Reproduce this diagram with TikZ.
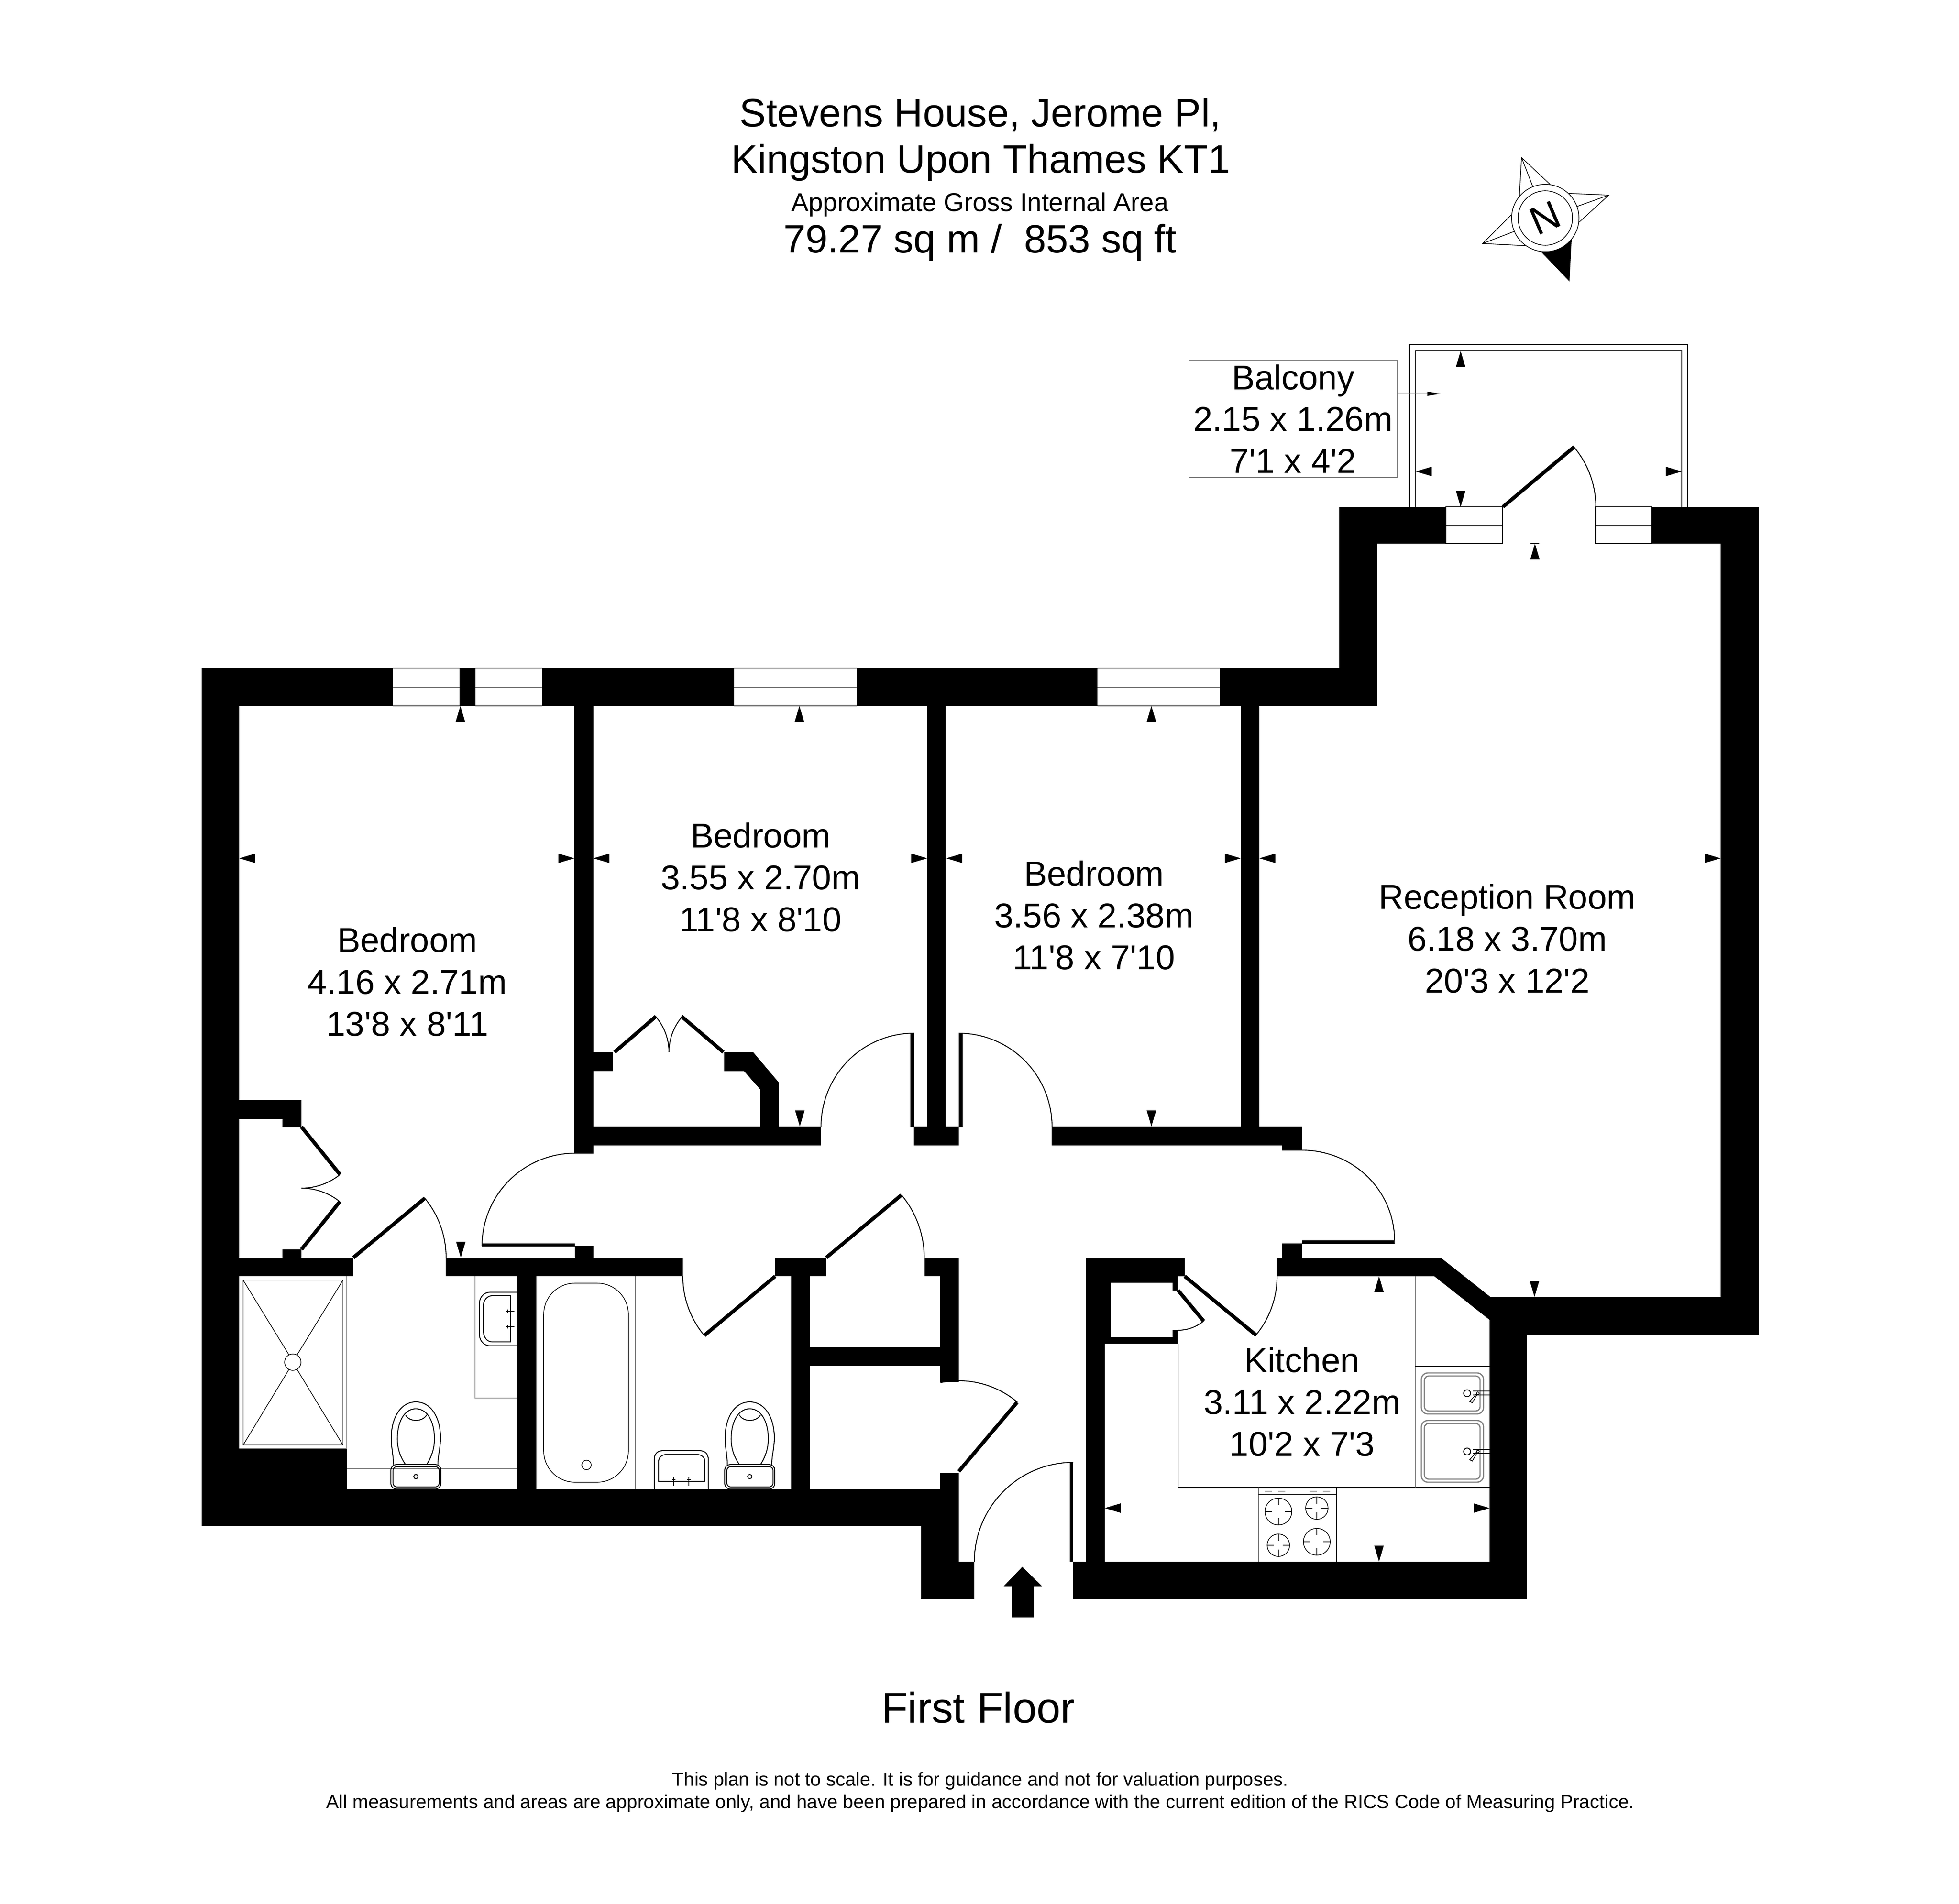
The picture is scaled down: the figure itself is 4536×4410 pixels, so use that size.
\documentclass[tikz,border=0pt]{standalone}
\usepackage{fontspec}
\newfontfamily\planfont{Liberation Sans}
\definecolor{linegray}{gray}{0.5}
\tikzset{
  x=0.01cm,y=-0.01cm,
  wall/.style={fill=black,draw=none},
  leaf/.style={line width=2.4pt,draw=black},
  swing/.style={line width=0.6pt,draw=black},
  fixture/.style={line width=0.6pt,draw=black},
  grayline/.style={line width=0.8pt,draw=linegray},
  thinblack/.style={line width=0.45pt,draw=black},
  tick/.style={fill=black,draw=none},
  roomlabel/.style={inner sep=0pt,align=center,font=\planfont\fontsize{22.7}{27.5}\selectfont},
  titlebig/.style={inner sep=0pt,anchor=base,font=\planfont\fontsize{26.15}{30}\selectfont},
}
\newcommand\wallrect[4]{\fill[wall] (#1,#2) rectangle (#3,#4);}
\newcommand\swingarc[6]{\draw[swing] plot[domain=#5:#6,samples=30,variable=\t] ({#1+#3*cos(\t)},{#2+#4*sin(\t)});}
\newcommand\tickU[2]{\fill[tick] (#1,#2)--({#1-11},{#2+37})--({#1+11},{#2+37})--cycle;}
\newcommand\tickD[2]{\fill[tick] (#1,#2)--({#1-11},{#2-37})--({#1+11},{#2-37})--cycle;}
\newcommand\tickL[2]{\fill[tick] (#1,#2)--({#1+37},{#2-11})--({#1+37},{#2+11})--cycle;}
\newcommand\tickR[2]{\fill[tick] (#1,#2)--({#1-37},{#2-11})--({#1-37},{#2+11})--cycle;}
\newcommand\toilet[1]{%
  \begin{scope}[shift={(#1,0)}]
  \draw[fixture] (1684,3392) .. controls (1684,3370) and (1679,3355) .. (1679,3330)
     .. controls (1679,3285) and (1700,3247) .. (1736,3247)
     .. controls (1772,3247) and (1793,3285) .. (1793,3330)
     .. controls (1793,3355) and (1787,3370) .. (1787,3392);
  \draw[fixture] (1712,3392) .. controls (1700,3375) and (1693,3355) .. (1693,3333)
     .. controls (1693,3295) and (1708,3263) .. (1736,3263)
     .. controls (1764,3263) and (1779,3295) .. (1779,3333)
     .. controls (1779,3355) and (1772,3375) .. (1761,3392);
  \draw[fixture] (1712,3277) .. controls (1720,3294) and (1752,3294) .. (1761,3277);
  \draw[fixture,rounded corners=0.13cm] (1678,3392) rectangle (1794,3449);
  \draw[fixture,rounded corners=0.09cm] (1683,3397) rectangle (1790,3444);
  \draw[fixture] (1736,3420) circle[radius=5];
  \end{scope}}
\newcommand\kitchensink[3]{%
  \draw[grayline,rounded corners=0.15cm] (3291,#1) rectangle (3435,#2);
  \draw[grayline,rounded corners=0.1cm] (3298,{#1+7}) rectangle (3427,{#2-7});
  \draw[fixture] (3397,#3) circle[radius=8];
  \draw[thinblack] (3410,{#3-5}) -- (3449,{#3-5}) (3410,{#3+4}) -- (3449,{#3+4});
  \draw[thinblack] (3422,#3) circle[radius=3];
  \draw[thinblack] (3420,{#3+3}) -- (3409,{#3+22}) -- (3403,{#3+19}) -- (3419,{#3+1});}
\newcommand\burner[3]{%
  \draw[thinblack] (#1,#2) circle[radius=#3];
  \draw[thinblack] ({#1-#3},#2) -- ({#1-#3+16},#2) ({#1+#3-16},#2) -- ({#1+#3},#2)
     (#1,{#2-#3}) -- (#1,{#2-#3+16}) (#1,{#2+#3-16}) -- (#1,{#2+#3});}
\begin{document}
\begin{tikzpicture}
\useasboundingbox (0,0) rectangle (4536,4410);
\fill[white] (0,0) rectangle (4536,4410);

% ---------- walls
\wallrect{467}{1548}{554}{3535}
\wallrect{554}{1548}{910}{1635}
\wallrect{1064}{1548}{1101}{1635}
\wallrect{1255}{1548}{1700}{1635}
\wallrect{1984}{1548}{2541}{1635}
\wallrect{2824}{1548}{3189}{1635}
\wallrect{3101}{1174}{3189}{1635}
\wallrect{3189}{1174}{3348}{1259}
\wallrect{3825}{1174}{4072}{1259}
\wallrect{3984}{1259}{4072}{3091}
\wallrect{3451}{3004}{4072}{3091}
\fill[wall] (2957,2913) -- (3336,2913) -- (3451,3004) -- (3451,3057) -- (3449,3057) -- (3321,2956) -- (2957,2956) -- cycle;
\wallrect{3449}{3004}{3535}{3704}
\wallrect{2485}{3617}{3535}{3704}
\fill[wall] (2514,2913) -- (2743,2913) -- (2743,2956) -- (2728,2956) -- (2728,2989) -- (2715,2989) -- (2715,2971) -- (2572,2971) -- (2572,3097) -- (2715,3097) -- (2715,3080) -- (2728,3080) -- (2728,3112) -- (2558,3112) -- (2558,3617) -- (2514,3617) -- cycle;
\wallrect{2969}{2880}{3015}{2913}
\wallrect{467}{3449}{2220}{3535}
\wallrect{2133}{3535}{2220}{3617}
\wallrect{2133}{3617}{2256}{3704}
\wallrect{2177}{3412}{2220}{3449}
\wallrect{554}{3355}{803}{3449}
\wallrect{554}{2913}{818}{2956}
\wallrect{1032}{2913}{1581}{2956}
\wallrect{1331}{2886}{1374}{2913}
\wallrect{1198}{2956}{1242}{3449}
\wallrect{1795}{2913}{1913}{2956}
\wallrect{1832}{2956}{1875}{3449}
\wallrect{2141}{2913}{2220}{2956}
\wallrect{2177}{2956}{2220}{3201}
\wallrect{1875}{3120}{2177}{3163}
\wallrect{554}{2548}{698}{2592}
\wallrect{654}{2592}{698}{2610}
\wallrect{654}{2894}{698}{2913}
\wallrect{1330}{1635}{1374}{2672}
\wallrect{2147}{1635}{2191}{2610}
\wallrect{2873}{1635}{2916}{2610}
\wallrect{1374}{2609}{1901}{2653}
\wallrect{2116}{2609}{2220}{2653}
\wallrect{2435}{2609}{3015}{2653}
\wallrect{2969}{2653}{3015}{2665}
\wallrect{1374}{2437}{1419}{2481}
\fill[wall] (1677,2437) -- (1744,2437) -- (1803,2507) -- (1803,2609) -- (1760,2609) -- (1760,2523) -- (1723,2481) -- (1677,2481) -- cycle;

% ---------- windows
\draw[grayline] (910,1548) -- (1064,1548) (910,1592) -- (1064,1592);
\draw[grayline] (1101,1548) -- (1255,1548) (1101,1592) -- (1255,1592);
\draw[grayline] (1700,1548) -- (1984,1548) (1700,1592) -- (1984,1592);
\draw[grayline] (2541,1548) -- (2824,1548) (2541,1592) -- (2824,1592);
\draw[thinblack] (910,1635) -- (1064,1635) (1101,1635) -- (1255,1635) (1700,1635) -- (1984,1635) (2541,1635) -- (2824,1635);
\draw[thinblack] (3348,1174) rectangle (3479,1259) (3348,1217) -- (3479,1217);
\draw[thinblack] (3694,1174) rectangle (3825,1259) (3694,1217) -- (3825,1217);

% ---------- door leaves and swings
\fill[black] (2108,2393) rectangle (2117,2610);
\fill[black] (2220,2393) rectangle (2229,2610);
\swingarc{2116}{2610}{215}{217}{180}{270}
\swingarc{2220}{2610}{216}{217}{270}{360}
\fill[black] (1116,2880) rectangle (1331,2887);
\swingarc{1331}{2886}{215}{215}{180}{270}
\draw[leaf] (818,2913) -- (984,2775);
\swingarc{818}{2913}{215}{216}{-39.7}{0}
\draw[leaf] (1795,2956) -- (1631,3093);
\swingarc{1795}{2956}{214}{214}{140.1}{180}
\draw[leaf] (1913,2913) -- (2087,2768);
\swingarc{1913}{2913}{227}{227}{-39.8}{0}
\draw[leaf] (2220,3408) -- (2355,3248);
\swingarc{2220}{3408}{210}{210}{-101.7}{-49.8}
\draw[leaf] (2743,2956) -- (2909,3093);
\swingarc{2743}{2956}{214}{214}{0}{39.5}
\draw[leaf] (2728,2989) -- (2787,3060);
\swingarc{2728}{2989}{92}{92}{50.3}{90}
\fill[black] (3015,2873) rectangle (3229,2881);
\swingarc{3015}{2873}{214}{209}{-90}{0}
\fill[black] (2477,3387) rectangle (2485,3617);
\swingarc{2485}{3617}{229}{230}{180}{270}
\draw[leaf] (3480,1174) -- (3645,1035);
\swingarc{3480}{1174}{215}{215}{-40.1}{0}
\draw[leaf] (698,2610) -- (787,2720);
\swingarc{698}{2610}{142}{142}{51}{90}
\draw[leaf] (698,2894) -- (787,2783);
\swingarc{698}{2894}{142}{142}{-90}{-51.3}
\draw[leaf] (1423,2437) -- (1519,2354);
\swingarc{1423}{2437}{126}{126}{-40.8}{0}
\draw[leaf] (1675,2437) -- (1578,2354);
\swingarc{1675}{2437}{126}{126}{180}{220.6}

% ---------- balcony
\draw[thinblack] (3264,1174) -- (3264,798) -- (3908,798) -- (3908,1174);
\draw[thinblack] (3278,1174) -- (3278,813) -- (3894,813) -- (3894,1174);
\node[draw=linegray,line width=0.8pt,roomlabel,minimum width=482*0.2845pt,minimum height=272*0.2845pt] (balcony) at (2994,970) {Balcony\\2.15 x 1.26m\\7'1 x 4'2};
\coordinate (balconyin) at (3336,912);
\draw[grayline] (balcony.east |- balconyin) -- (3305,912);
\fill[black] (3305,907) -- (balconyin) -- (3305,917) -- cycle;

% ---------- dimension ticks
\tickU{3382}{813} \tickD{3382}{1174} \tickL{3278}{1092} \tickR{3894}{1092}
\tickU{3554}{1259} \draw[thinblack] (3544,1259) -- (3564,1259);
\tickU{1066}{1635} \tickU{1851}{1635} \tickU{2666}{1635}
\tickL{554}{1988} \tickR{1330}{1988} \tickD{1067}{2913}
\tickL{1374}{1988} \tickR{2147}{1988} \tickD{1852}{2609}
\tickL{2191}{1988} \tickR{2873}{1988} \tickD{2666}{2609}
\tickL{2916}{1988} \tickR{3984}{1988} \tickD{3553}{3004}
\tickU{3193}{2956} \tickD{3193}{3617} \tickL{2558}{3493} \tickR{3449}{3493}

% ---------- shower room
\draw[grayline] (563,2965) rectangle (794,3347);
\draw[grayline,line width=0.5pt] (803,2956) -- (803,3355) -- (554,3355);
\draw[thinblack] (563,2965) -- (669,3138) (794,2965) -- (688,3138) (563,3347) -- (669,3172) (794,3347) -- (688,3172);
\draw[thinblack] (678,3155) circle[radius=19];
\draw[grayline,line width=0.5pt] (1100,2956) -- (1100,3238) -- (1198,3238);
\draw[grayline] (803,3402) -- (1198,3402);
\draw[fixture] (1198,2993) -- (1135,2993) .. controls (1120,2993) and (1110,3005) .. (1110,3020) -- (1110,3090) .. controls (1110,3105) and (1120,3117) .. (1135,3117) -- (1198,3117);
\draw[fixture] (1182,3001) -- (1140,3001) .. controls (1128,3001) and (1119,3012) .. (1119,3025) -- (1119,3080) .. controls (1119,3098) and (1128,3108) .. (1140,3108) -- (1182,3108) -- cycle;
\draw[thinblack] (1171,3037) -- (1191,3037) (1176,3033) -- (1176,3041) (1171,3073) -- (1191,3073) (1176,3069) -- (1176,3077);
\toilet{-773}

% ---------- bathroom
\draw[thinblack,rounded corners=0.72cm] (1259,2972) rectangle (1455,3433);
\draw[thinblack] (1358,3393) circle[radius=11];
\draw[grayline,line width=0.5pt] (1471,2956) -- (1471,3449);
\draw[fixture] (1515,3449) -- (1515,3380) .. controls (1515,3368) and (1522,3360) .. (1535,3360) -- (1620,3360) .. controls (1633,3360) and (1640,3368) .. (1640,3380) -- (1640,3449);
\draw[fixture] (1525,3431) -- (1525,3385) .. controls (1525,3375) and (1533,3369) .. (1543,3369) -- (1614,3369) .. controls (1624,3369) and (1632,3375) .. (1632,3385) -- (1632,3431) -- cycle;
\draw[thinblack] (1560,3422) -- (1560,3442) (1556,3427) -- (1564,3427) (1595,3422) -- (1595,3442) (1591,3427) -- (1599,3427);
\toilet{0}

% ---------- kitchen
\draw[grayline] (2728,3112) -- (2728,3445);
\draw[thinblack] (2728,3445) -- (3449,3445);
\draw[grayline] (3277,2956) -- (3277,3445);
\draw[thinblack] (3277,3165) -- (3449,3165);
\kitchensink{3180}{3275}{3227}
\kitchensink{3290}{3433}{3362}
\draw[grayline] (2914,3445) -- (2914,3617);
\draw[thinblack] (3095,3445) -- (3095,3617) (2914,3462) -- (3095,3462);
\draw[grayline] (2928,3454) -- (2945,3454) (2960,3454) -- (2976,3454) (3032,3454) -- (3049,3454) (3063,3454) -- (3080,3454);
\burner{2960}{3501}{31}
\burner{3049}{3493}{26}
\burner{2960}{3579}{26}
\burner{3049}{3571}{31}

% ---------- entrance arrow
\fill[black] (2367,3629) -- (2413,3674) -- (2394,3674) -- (2394,3746) -- (2343,3746) -- (2343,3674) -- (2324,3674) -- cycle;

% ---------- compass
\draw[thinblack] (3518,453) -- (3523,365) -- (3589,427) (3523,365) -- (3549,432);
\draw[thinblack] (3633,448) -- (3725,452) -- (3656,515) (3725,452) -- (3652,478);
\draw[thinblack] (3499,498) -- (3433,564) -- (3532,569) (3433,564) -- (3506,536);
\fill[black] (3567,582) -- (3634,652) -- (3639,555) -- cycle;
\draw[thinblack,fill=white] (3578,505) circle[radius=78];
\draw[thinblack] (3578,505) circle[radius=63];
\node[inner sep=0pt,rotate=23,font=\planfont\fontsize{26}{30}\selectfont] (north) at (3578,505) {N};

% ---------- room labels
\node[roomlabel] (bed1) at (943,2274) {Bedroom\\4.16 x 2.71m\\13'8 x 8'11};
\node[roomlabel] (bed2) at (1761,2032) {Bedroom\\3.55 x 2.70m\\11'8 x 8'10};
\node[roomlabel] (bed3) at (2533,2120) {Bedroom\\3.56 x 2.38m\\11'8 x 7'10};
\node[roomlabel] (recep) at (3490,2174) {Reception Room\\6.18 x 3.70m\\20'3 x 12'2};
\node[roomlabel] (kitch) at (3015,3247) {Kitchen\\3.11 x 2.22m\\10'2 x 7'3};

% ---------- titles
\node[titlebig] (t1) at (2270,294) {Stevens House, Jerome Pl,};
\node[titlebig] (t2) at (2271,401) {Kingston Upon Thames KT1};
\node[inner sep=0pt,anchor=base,font=\planfont\fontsize{17.05}{20}\selectfont] (t3) at (2269,490) {Approximate Gross Internal Area};
\node[titlebig] (t4) at (2269,586) {79.27 sq m /\ \ 853 sq ft};
\node[inner sep=0pt,anchor=base,font=\planfont\fontsize{28.3}{32}\selectfont] (floor) at (2265,3990) {First Floor};
\node[inner sep=0pt,anchor=base,font=\planfont\fontsize{12.5}{14}\selectfont] (n1) at (2270,4136) {This plan is not to scale. It is for guidance and not for valuation purposes.};
\node[inner sep=0pt,anchor=base,font=\planfont\fontsize{12.5}{14}\selectfont] (n2) at (2270,4188) {All measurements and areas are approximate only, and have been prepared in accordance with the current edition of the RICS Code of Measuring Practice.};
\end{tikzpicture}
\end{document}
